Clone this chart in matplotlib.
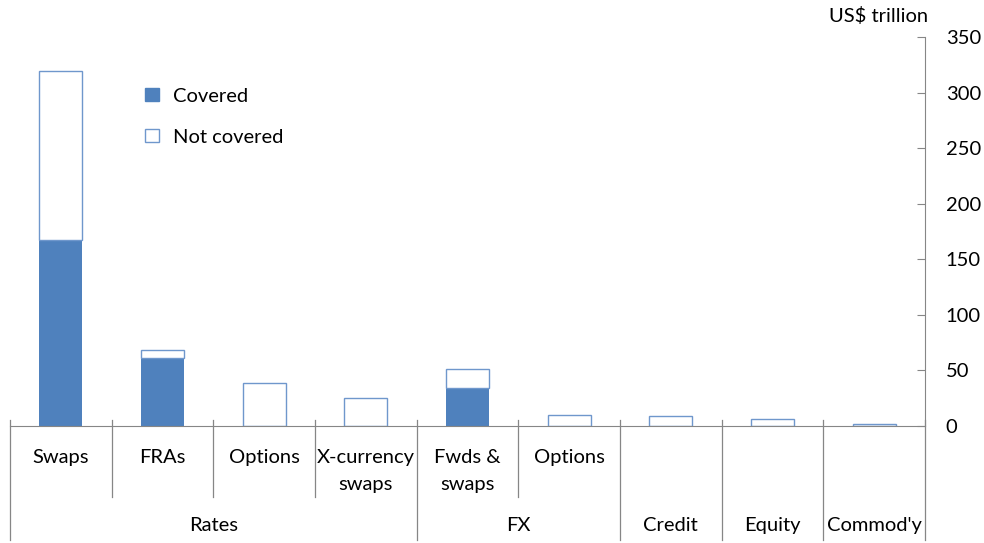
import matplotlib
matplotlib.use("Agg")
import matplotlib.pyplot as plt
import matplotlib.transforms as mtransforms
from matplotlib.patches import Patch

plt.rcParams["font.family"] = ["Lato", "DejaVu Sans"]

# ── Data (US$ trillion) ──────────────────────────────────────────────────────
categories = ["Swaps", "FRAs", "Options", "X-currency\nswaps", "Fwds &\nswaps",
              "Options", "", "", ""]
groups = ["Rates", "FX", "Credit", "Equity", "Commod'y"]
group_sizes = [4, 2, 1, 1, 1]
covered = [167, 61, 0, 0, 34, 0, 0, 0, 0]
total = [319, 68, 39, 25, 51, 10, 9, 6, 1.5]

BLUE = "#4F81BD"
GREY = "#868686"
FS = 14.5

fig = plt.figure(figsize=(9.84, 5.43), dpi=100)
ax = fig.add_axes([10 / 984, 117 / 543, 915 / 984, 389 / 543])

x = list(range(len(categories)))
not_covered = [t - c for t, c in zip(total, covered)]
w = 0.42
ax.bar(x, covered, width=w, color=BLUE, linewidth=0, zorder=2)
ax.bar(x, not_covered, bottom=covered, width=w, facecolor="white",
       edgecolor="#6F97CC", linewidth=1.0, zorder=2)

ax.set_xlim(-0.5, len(categories) - 0.5)
ax.set_ylim(0, 350)
ax.set_yticks(range(0, 351, 50))

# right-hand axis only
for s in ["left", "top"]:
    ax.spines[s].set_visible(False)
ax.spines["right"].set_color(GREY)
ax.spines["bottom"].set_color(GREY)
ax.yaxis.tick_right()
ax.tick_params(axis="y", direction="in", length=6, color=GREY, pad=15,
               labelsize=FS)
ax.set_xticks([])

ax.text(1.003, 1.03, "US$ trillion", transform=ax.transAxes, ha="right",
        va="bottom", fontsize=FS)

# multi-level category axis
trans = mtransforms.blended_transform_factory(ax.transData, ax.transAxes)
for i, lab in enumerate(categories):
    if lab:
        ax.text(i, -0.058, lab, transform=trans, ha="center", va="top",
                fontsize=FS, linespacing=1.75)

bounds = [-0.5]
for n in group_sizes:
    bounds.append(bounds[-1] + n)
for b in range(len(categories) + 1):
    xb = b - 0.5
    low = -0.293 if xb in bounds else -0.183
    ax.plot([xb, xb], [0.016, low], transform=trans, color=GREY, lw=0.9,
            clip_on=False)

start = -0.5
for g, n in zip(groups, group_sizes):
    ax.text(start + n / 2, -0.2545, g, transform=trans, ha="center",
            va="center", fontsize=FS)
    start += n

handles = [Patch(facecolor=BLUE, edgecolor=BLUE, label="Covered"),
           Patch(facecolor="white", edgecolor="#6F97CC", label="Not covered")]
ax.legend(handles=handles, loc="upper left", bbox_to_anchor=(0.148, 0.87),
          frameon=False, fontsize=FS, handlelength=0.65, handleheight=0.65,
          handletextpad=0.7, labelspacing=1.2, borderpad=0, borderaxespad=0)

fig.savefig("out.png", dpi=100)
